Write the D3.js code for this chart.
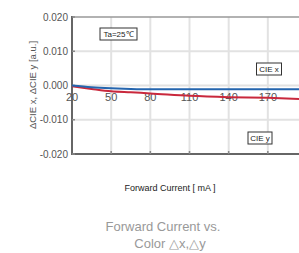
<!DOCTYPE html>
<html>
<head>
<meta charset="utf-8">
<script src="https://cdn.jsdelivr.net/npm/d3@7"></script>
<style>
  body { margin: 0; background: #fff; }
  svg { display: block; font-family: "Liberation Sans", Arial, sans-serif; }
</style>
</head>
<body>
<svg id="chart"></svg>
<script>
// forward current in mA
const currents = [20, 35, 50, 65, 80, 110, 140, 170, 200];
// colour shift of each series
const cieX = [0.0000, -0.0005, -0.0008, -0.0010, -0.0011, -0.0011, -0.0011, -0.0011, -0.0011];
const cieY = [-0.0002, -0.0010, -0.0017, -0.0020, -0.0023, -0.0030, -0.0034, -0.0036, -0.0040];
const xTicks = [20, 50, 80, 110, 140, 170];
const yTicks = [-0.02, -0.01, 0, 0.01, 0.02];

const width = 299, height = 253;
const margin = { top: 17, left: 72, bottom: 99 };

const svg = d3.select('#chart').attr('width', width).attr('height', height);

// the plot runs to 200 mA, past the right edge of the picture
const x = d3.scaleLinear().domain([20, 200]).range([margin.left, 307]);
const y = d3.scaleLinear().domain([-0.02, 0.02]).range([height - margin.bottom, margin.top]);

// grid
svg.append('g').selectAll('line').data(xTicks.slice(1)).enter().append('line')
  .attr('x1', d => x(d)).attr('x2', d => x(d))
  .attr('y1', y(0.02)).attr('y2', y(-0.02))
  .attr('stroke', '#e2e2e2').attr('stroke-width', 2);
svg.append('g').selectAll('line').data(yTicks.slice(1, -1)).enter().append('line')
  .attr('x1', x(20)).attr('x2', width)
  .attr('y1', d => y(d)).attr('y2', d => y(d))
  .attr('stroke', '#e2e2e2').attr('stroke-width', 2);

// top border
svg.append('line')
  .attr('x1', x(20)).attr('x2', width)
  .attr('y1', y(0.02)).attr('y2', y(0.02))
  .attr('stroke', '#999').attr('stroke-width', 1.5);

// bottom axis line and ticks
svg.append('line')
  .attr('x1', x(20)).attr('x2', width)
  .attr('y1', y(-0.02)).attr('y2', y(-0.02))
  .attr('stroke', '#666').attr('stroke-width', 2);
svg.append('g').selectAll('line').data(xTicks.slice(1)).enter().append('line')
  .attr('x1', d => x(d)).attr('x2', d => x(d))
  .attr('y1', y(-0.02)).attr('y2', y(-0.02) - 3)
  .attr('stroke', '#888').attr('stroke-width', 1.5);

// left axis
svg.append('line')
  .attr('x1', x(20)).attr('x2', x(20))
  .attr('y1', y(0.02) - 1).attr('y2', y(-0.02) + 1)
  .attr('stroke', '#666').attr('stroke-width', 2);
svg.append('g').selectAll('line').data(yTicks).enter().append('line')
  .attr('x1', x(20)).attr('x2', x(20) + 3)
  .attr('y1', d => y(d)).attr('y2', d => y(d))
  .attr('stroke', '#888').attr('stroke-width', 1.5);

const fmt = d3.format('.3f');
svg.append('g').selectAll('text').data(yTicks).enter().append('text')
  .attr('x', x(20) - 4).attr('y', d => y(d)).attr('dy', '0.35em')
  .attr('text-anchor', 'end')
  .attr('font-size', 10).attr('fill', '#555')
  .text(d => fmt(d).replace('−', '-'));

// x tick labels sit inside the plot under the zero line
svg.append('g').selectAll('text').data(xTicks).enter().append('text')
  .attr('x', d => x(d)).attr('y', y(0) + 15)
  .attr('text-anchor', 'middle')
  .attr('font-size', 11).attr('fill', '#555')
  .text(d => d);

// series
const line = d3.line()
  .x((d, i) => x(currents[i]))
  .y(d => y(d))
  .curve(d3.curveMonotoneX);

svg.append('path').datum(cieY)
  .attr('d', line).attr('fill', 'none')
  .attr('stroke', '#c9283c').attr('stroke-width', 2);
svg.append('path').datum(cieX)
  .attr('d', line).attr('fill', 'none')
  .attr('stroke', '#2565ae').attr('stroke-width', 2);

// boxed labels
function boxLabel(cx, cy, txt, w) {
  const g = svg.append('g');
  g.append('rect')
    .attr('x', cx - w / 2).attr('y', cy - 6)
    .attr('width', w).attr('height', 12)
    .attr('fill', '#fff').attr('stroke', '#333').attr('stroke-width', 1);
  g.append('text')
    .attr('x', cx).attr('y', cy).attr('dy', '0.35em')
    .attr('text-anchor', 'middle')
    .attr('font-size', 8).attr('fill', '#222')
    .text(txt);
}
boxLabel(118.5, 34, 'Ta=25\u2103', 37);
boxLabel(269, 69, 'CIE x', 25);
boxLabel(260, 138, 'CIE y', 24);

// axis titles
svg.append('text')
  .attr('transform', 'translate(36,85) rotate(-90)')
  .attr('text-anchor', 'middle')
  .attr('font-size', 9.5).attr('fill', '#555')
  .text('\u0394CIE x, \u0394CIE y [a.u.]');

svg.append('text')
  .attr('x', 170).attr('y', 191)
  .attr('text-anchor', 'middle')
  .attr('font-size', 9).attr('fill', '#222')
  .text('Forward Current  [ mA ]');

// caption
svg.append('text')
  .attr('x', 163).attr('y', 231)
  .attr('text-anchor', 'middle')
  .attr('font-size', 13).attr('fill', '#999')
  .text('Forward Current vs.');
svg.append('text')
  .attr('x', 170).attr('y', 248)
  .attr('text-anchor', 'middle')
  .attr('font-size', 13).attr('fill', '#999')
  .text('Color \u25b3x,\u25b3y');
</script>
</body>
</html>
